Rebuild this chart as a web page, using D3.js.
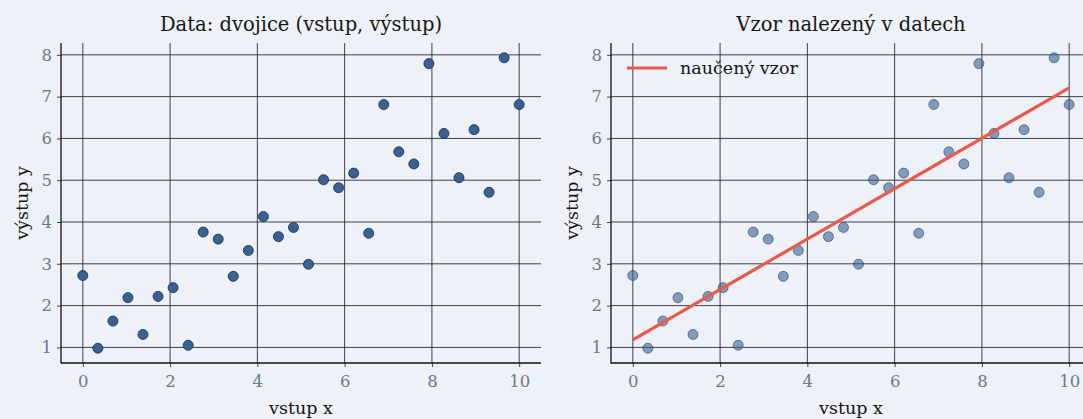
<!DOCTYPE html>
<html>
<head>
<meta charset="utf-8">
<script src="https://cdn.jsdelivr.net/npm/d3@7"></script>
<style>
  html, body { margin: 0; padding: 0; background: #eef1f7; }
  svg { display: block; }
  text { font-family: "DejaVu Serif", serif; }
</style>
</head>
<body>
<svg id="chart" width="1083" height="419"></svg>
<script>
// Observed pairs (input, output)
const xValues = [0, 0.345, 0.690, 1.034, 1.379, 1.724, 2.069, 2.414, 2.759, 3.103,
                 3.448, 3.793, 4.138, 4.483, 4.828, 5.172, 5.517, 5.862, 6.207, 6.552,
                 6.897, 7.241, 7.586, 7.931, 8.276, 8.621, 8.966, 9.310, 9.655, 10];
const yValues = [2.72, 0.98, 1.63, 2.19, 1.31, 2.22, 2.43, 1.05, 3.76, 3.59,
                 2.70, 3.32, 4.13, 3.65, 3.87, 2.99, 5.01, 4.82, 5.17, 3.73,
                 6.81, 5.68, 5.39, 7.79, 6.12, 5.06, 6.21, 4.71, 7.93, 6.81];
// Learned linear pattern: y = intercept + slope * x
const fitIntercept = 1.18;
const fitSlope = 0.603;
const fitRange = [0, 10];

const xTicks = [0, 2, 4, 6, 8, 10];
const yTicks = [1, 2, 3, 4, 5, 6, 7, 8];
const titles = ["Data: dvojice (vstup, výstup)", "Vzor nalezený v datech"];
const xLabel = "vstup x";
const yLabel = "výstup y";
const legendLabel = "naučený vzor";

const svg = d3.select("#chart");
const gridColor = "#2a2e38";
const tickColor = "#6b7891";
const pointFill = "#3a6192";
const pointStroke = "#1f3550";
const fitColor = "#e85a4c";
const textColor = "#161616";

const plotTop = 43, plotBottom = 363;
const panels = [
  { left: 61, right: 541, faded: false, fit: false },
  { left: 611, right: 1091, faded: true, fit: true }
];

panels.forEach((p, i) => {
  const x = d3.scaleLinear().domain([-0.5, 10.5]).range([p.left, p.right]);
  const y = d3.scaleLinear().domain([0.6265, 8.2835]).range([plotBottom, plotTop]);
  const g = svg.append("g");

  // grid
  g.append("g").selectAll("line").data(yTicks).join("line")
    .attr("x1", p.left).attr("x2", p.right)
    .attr("y1", d => y(d)).attr("y2", d => y(d))
    .attr("stroke", gridColor).attr("stroke-width", 0.9);
  g.append("g").selectAll("line").data(xTicks).join("line")
    .attr("x1", d => x(d)).attr("x2", d => x(d))
    .attr("y1", plotTop).attr("y2", plotBottom)
    .attr("stroke", gridColor).attr("stroke-width", 0.9);

  // axes
  const xAxis = d3.axisBottom(x).tickValues(xTicks).tickSize(4).tickPadding(5).tickFormat(d3.format("d"));
  const yAxis = d3.axisLeft(y).tickValues(yTicks).tickSize(4).tickPadding(5).tickFormat(d3.format("d"));
  const gx = g.append("g").attr("transform", `translate(0,${plotBottom})`).call(xAxis);
  const gy = g.append("g").attr("transform", `translate(${p.left},0)`).call(yAxis);
  [gx, gy].forEach(a => {
    a.select(".domain").remove();
    a.selectAll(".tick line").attr("stroke", gridColor).attr("stroke-width", 0.9);
    a.selectAll(".tick text").attr("fill", tickColor)
      .style("font-family", "DejaVu Serif").style("font-size", "16.5px");
  });
  gx.selectAll(".tick text").attr("dy", "0.9em");
  // spines
  g.append("line").attr("x1", p.left).attr("x2", p.left).attr("y1", plotTop).attr("y2", plotBottom + 0.5)
    .attr("stroke", "#111").attr("stroke-width", 1.3);
  g.append("line").attr("x1", p.left).attr("x2", p.right).attr("y1", plotBottom).attr("y2", plotBottom)
    .attr("stroke", "#111").attr("stroke-width", 1.3);

  // points
  g.append("g").selectAll("circle").data(xValues.map((v, k) => [v, yValues[k]])).join("circle")
    .attr("cx", d => x(d[0])).attr("cy", d => y(d[1])).attr("r", 5)
    .attr("fill", pointFill).attr("stroke", pointStroke).attr("stroke-width", 0.9)
    .attr("fill-opacity", p.faded ? 0.6 : 1).attr("stroke-opacity", p.faded ? 0.6 : 1);

  if (p.fit) {
    const line = d3.line().x(d => x(d)).y(d => y(fitIntercept + fitSlope * d));
    g.append("path").datum(fitRange).attr("d", line)
      .attr("fill", "none").attr("stroke", fitColor).attr("stroke-width", 3.2)
      .attr("stroke-linecap", "butt");
    // legend
    g.append("line").attr("x1", p.left + 16).attr("x2", p.left + 56)
      .attr("y1", 68).attr("y2", 68).attr("stroke", fitColor).attr("stroke-width", 3.2);
    g.append("text").attr("x", p.left + 69).attr("y", 68).attr("dy", "0.35em")
      .attr("fill", textColor).style("font-size", "17.5px").text(legendLabel);
  }

  // titles and labels
  const cx = (p.left + p.right) / 2;
  g.append("text").attr("x", cx).attr("y", 31).attr("text-anchor", "middle")
    .attr("fill", textColor).style("font-size", "19.5px").text(titles[i]);
  g.append("text").attr("x", cx).attr("y", 414).attr("text-anchor", "middle")
    .attr("fill", textColor).style("font-size", "17.5px").text(xLabel);
  g.append("text").attr("transform", `translate(${p.left - 33},${(plotTop + plotBottom) / 2}) rotate(-90)`)
    .attr("text-anchor", "middle").attr("fill", textColor).style("font-size", "17.5px").text(yLabel);
});
</script>
</body>
</html>
